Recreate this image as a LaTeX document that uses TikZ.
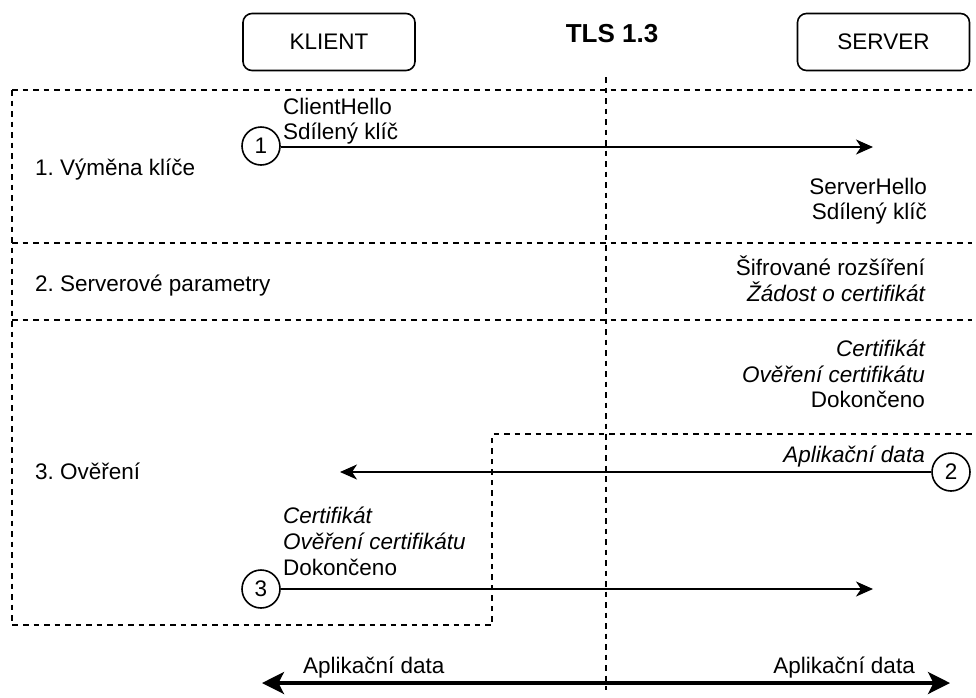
\documentclass[tikz,border=0pt]{standalone}
\usepackage{fontspec}
\setmainfont{Liberation Sans}
\usetikzlibrary{arrows.meta}
\frenchspacing
\begin{document}
\begin{tikzpicture}[x=1pt,y=-1pt,
  txt/.style={font=\fontsize{22.5}{27}\selectfont, inner sep=0pt},
  itxt/.style={txt, font=\fontsize{22.5}{27}\selectfont\itshape},
  party/.style={draw, line width=1.6pt, rounded corners=9pt, minimum width=172pt, minimum height=57pt, inner sep=0pt, font=\fontsize{22.5}{27}\selectfont},
  num/.style={draw, circle, line width=1.6pt, minimum size=38pt, inner sep=0pt, font=\fontsize{22.5}{27}\selectfont},
  msg/.style={line width=1.8pt, -{Stealth[length=17pt,width=15pt,inset=5pt]}},
  appdata/.style={line width=3.3pt, {Stealth[length=22pt,width=22pt,inset=5.5pt]}-{Stealth[length=22pt,width=22pt,inset=5.5pt]}},
  sep/.style={line width=1.4pt, dash pattern=on 5.5pt off 5pt}
]
\useasboundingbox (0,0) rectangle (976,697);

% header
\node[party] (klient) at (329,42) {KLIENT};
\node[party] (server) at (883.5,42) {SERVER};
\node[font=\fontsize{26}{30}\selectfont\bfseries, inner sep=0pt, anchor=base] (title) at (612,42) {TLS 1.3};

% phase separators
\draw[sep] (12,90) -- (972,90);
\draw[sep] (12,243) -- (972,243);
\draw[sep] (12,320) -- (972,320);
\draw[sep] (12,90) -- (12,625) -- (492,625) -- (492,434) -- (972,434);
\draw[sep] (606,77) -- (606,690);

% phase labels
\node[txt, anchor=base west] (p1) at (35,175) {1. Výměna klíče};
\node[txt, anchor=base west] (p2) at (35,291) {2. Serverové parametry};
\node[txt, anchor=base west] (p3) at (35,479) {3. Ověření};

% message 1
\node[num] (c1) at (261,146) {1};
\coordinate (e1) at (873,147);
\draw[msg] (c1.east |- e1) -- (e1);
\node[txt, anchor=base west] (m1a) at (283,114) {ClientHello};
\node[txt, anchor=base west] (m1b) at (283,139) {Sdílený klíč};

% server flight
\node[txt, anchor=base east] (s1a) at (927,194) {ServerHello};
\node[txt, anchor=base east] (s1b) at (927,219) {Sdílený klíč};
\node[txt, anchor=base east] (s2a) at (925,275) {Šifrované rozšíření};
\node[itxt, anchor=base east] (s2b) at (925,301) {Žádost o certifikát};
\node[itxt, anchor=base east] (s3a) at (925,356) {Certifikát};
\node[itxt, anchor=base east] (s3b) at (925,382) {Ověření certifikátu};
\node[txt, anchor=base east] (s3c) at (925,407) {Dokončeno};

% message 2
\node[num] (c2) at (951,472) {2};
\coordinate (e2) at (340,472);
\draw[msg] (c2.west |- e2) -- (e2);
\node[itxt, anchor=base east] (m2) at (925,462) {Aplikační data};

% message 3
\node[itxt, anchor=base west] (m3a) at (283,523) {Certifikát};
\node[itxt, anchor=base west] (m3b) at (283,549) {Ověření certifikátu};
\node[txt, anchor=base west] (m3c) at (283,575) {Dokončeno};
\node[num] (c3) at (261,589) {3};
\coordinate (e3) at (873,589);
\draw[msg] (c3.east |- e3) -- (e3);

% application data
\coordinate (al) at (262,683);
\coordinate (ar) at (950,683);
\draw[appdata] (al) -- (ar);
\node[txt, anchor=base west] (ad1) at (303,673) {Aplikační data};
\node[txt, anchor=base east] (ad2) at (915,673) {Aplikační data};
\end{tikzpicture}
\end{document}
